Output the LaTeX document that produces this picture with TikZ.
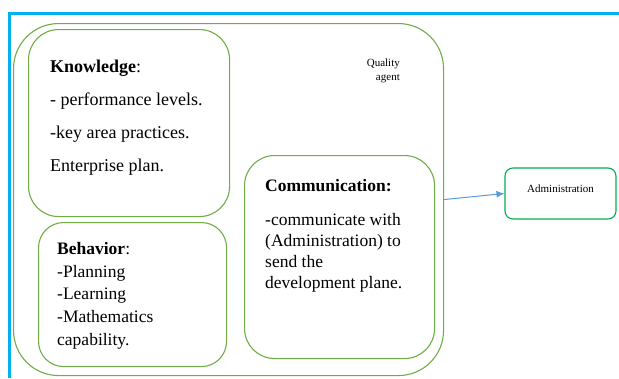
\documentclass[tikz,border=0pt]{standalone}
\usepackage{fontspec}
\setmainfont{Liberation Serif}
\usetikzlibrary{arrows.meta}

\definecolor{frameblue}{HTML}{00B0F0}
\definecolor{boxgreen}{HTML}{70AD47}
\definecolor{admgreen}{HTML}{00B050}
\definecolor{arrowblue}{HTML}{5B9BD5}

\begin{document}
\begin{tikzpicture}[x=1pt, y=-1pt,
    box/.style={draw=boxgreen, line width=1.1pt, anchor=north west, inner sep=0pt},
    txt/.style={anchor=north west, align=left, inner sep=0pt, font=\fontsize{17.5}{22.8}\selectfont}]
    \useasboundingbox (0,0) rectangle (619,378);
    % frame lines
    \draw[frameblue, line width=3pt] (9,378) -- (9,13) -- (619,13);

    \node[box, rounded corners=45pt, minimum width=430pt, minimum height=352pt] (agent) at (13,23) {};
    \node[box, rounded corners=30pt, minimum width=201pt, minimum height=187pt] (knowledge) at (28,29) {};
    \node[box, rounded corners=25pt, minimum width=188pt, minimum height=144pt] (behavior) at (38,222) {};
    \node[box, rounded corners=30pt, minimum width=190pt, minimum height=203pt] (communication) at (244,155) {};
    \node[draw=admgreen, line width=1.1pt, rounded corners=8pt, minimum width=111pt, minimum height=51pt,
          text depth=9pt, font=\fontsize{11}{13}\selectfont] (admin) at (560.5,193.5) {Administration};

    \node[anchor=north east, align=right, inner sep=0pt, font=\fontsize{11}{14}\selectfont] (agentlabel) at (400,59) {Quality\\agent};

    \node[txt, font=\fontsize{18}{33}\selectfont] (knowtext) at (50,60)
        {\textbf{Knowledge}:\\- performance levels.\\-key area practices.\\Enterprise plan.};
    \node[txt] (behavtext) at (57,242)
        {\textbf{Behavior}:\\-Planning\\-Learning\\-Mathematics\\capability.};
    \node[txt, font=\fontsize{17.5}{21}\selectfont] (commtext) at (265,179)
        {\textbf{Communication:}\\[13pt]-communicate with\\(Administration) to\\send the\\development plane.};

    \draw[arrowblue, line width=1pt, -{Latex[length=8pt, width=7pt]}] (agent.east) -- (admin.west);
\end{tikzpicture}
\end{document}
